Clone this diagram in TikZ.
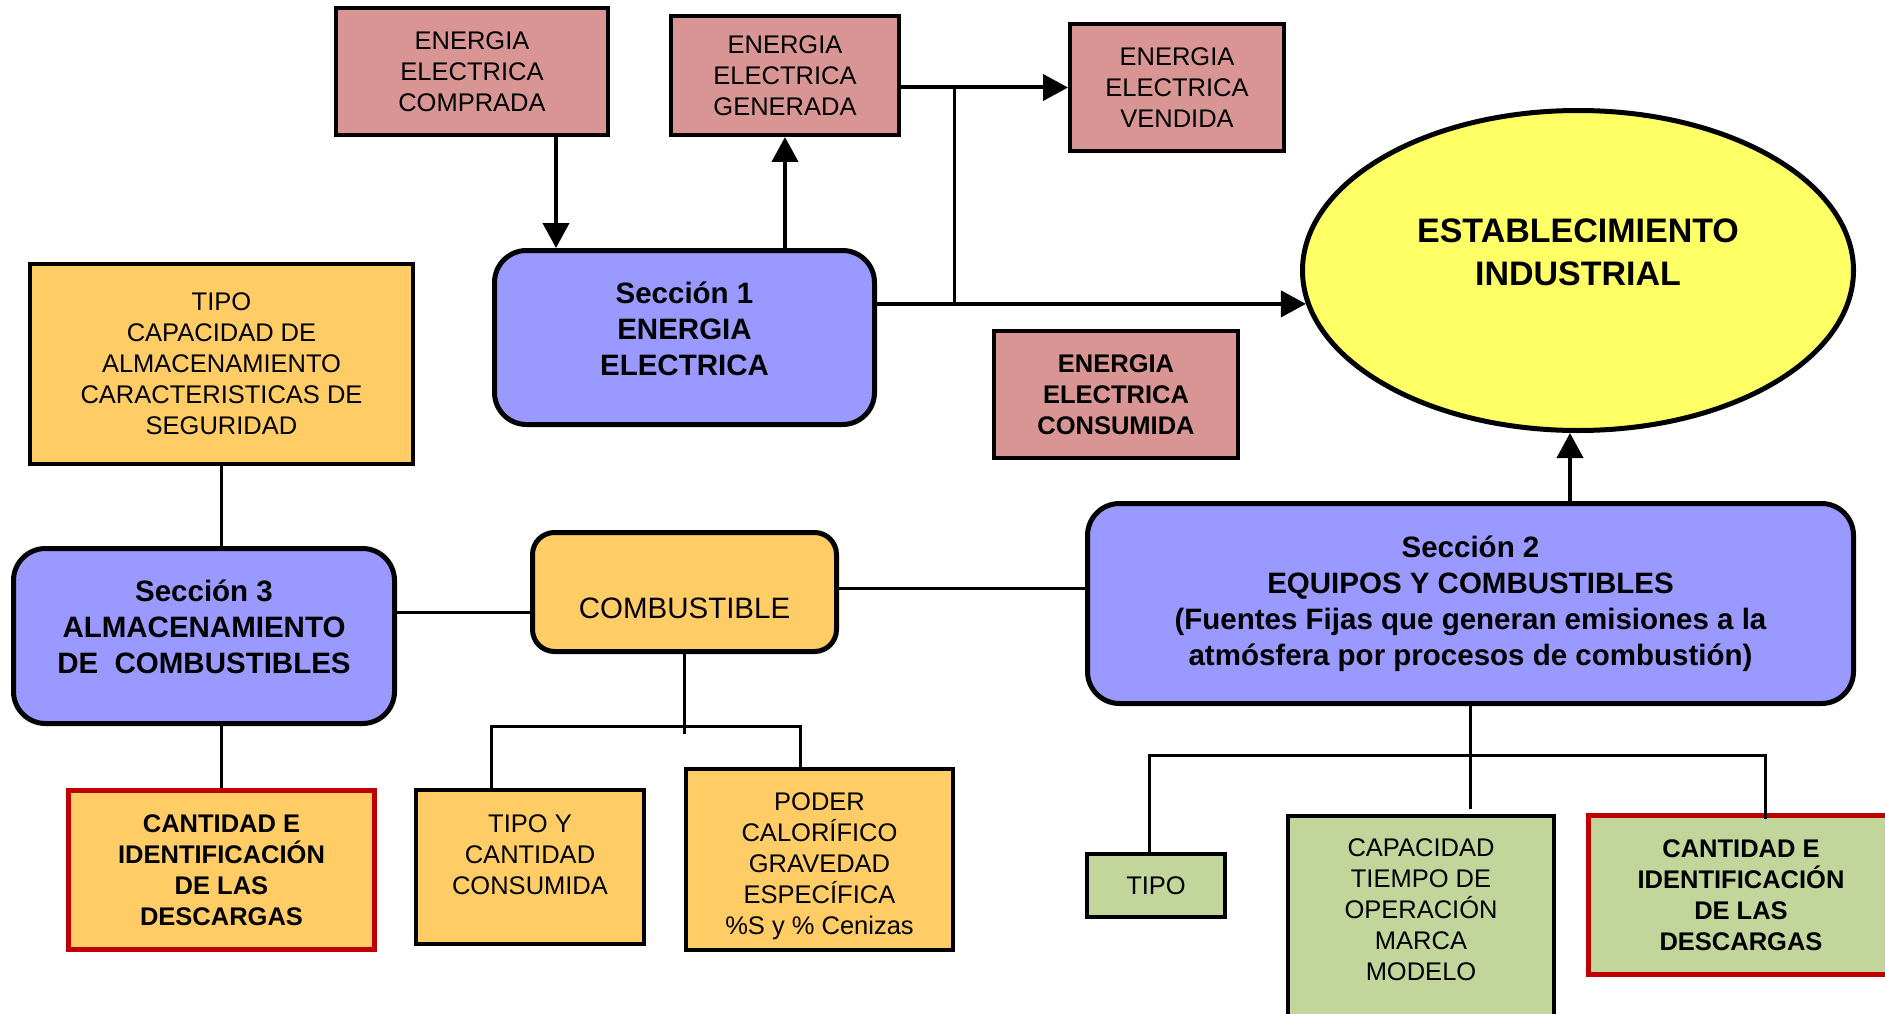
\documentclass[tikz,border=0pt]{standalone}
\usepackage{fontspec}
\setmainfont{Liberation Sans}
\usetikzlibrary{arrows.meta,shapes.geometric}

\definecolor{boxpink}{HTML}{D99594}
\definecolor{boxblue}{HTML}{9999FF}
\definecolor{boxorange}{HTML}{FFCC66}
\definecolor{boxyellow}{HTML}{FFFF66}
\definecolor{boxgreen}{HTML}{C2D69B}
\definecolor{boxred}{HTML}{C00000}

\begin{document}
\begin{tikzpicture}[x=1pt,y=-1pt,
    txt/.style={font={\fontsize{25.5}{31}\selectfont}, align=center},
    txtb/.style={font={\bfseries\fontsize{25.5}{31}\selectfont}, align=center},
    head/.style={font={\bfseries\fontsize{29.5}{36}\selectfont}, align=center},
    plainbox/.style={draw, line width=4pt, inner sep=0pt},
    energybox/.style={plainbox, fill=boxpink},
    fuelbox/.style={plainbox, fill=boxorange},
    equipbox/.style={plainbox, fill=boxgreen},
    outbox/.style={draw=boxred, line width=5pt, inner sep=0pt, txtb},
    secbox/.style={draw, line width=5pt, fill=boxblue, rounded corners=32pt, inner sep=0pt, head},
    link/.style={line width=3pt},
    flow/.style={line width=4pt, -{Triangle[length=25pt,width=26pt]}}]
      \useasboundingbox (0,0) rectangle (1885,1014);
      \clip (0,0) rectangle (1885,1014);

      % Energia electrica
      \node[energybox, txt, minimum width=272, minimum height=127] (compr) at (472,71.5) {ENERGIA\\ELECTRICA\\COMPRADA};
      \node[energybox, txt, minimum width=228, minimum height=119] (gener) at (785,75.5) {ENERGIA\\ELECTRICA\\GENERADA};
      \node[energybox, txt, minimum width=214, minimum height=127] (vend) at (1177,87.5) {ENERGIA\\ELECTRICA\\VENDIDA};
      \node[energybox, txtb, minimum width=244, minimum height=127] (consum) at (1116,394.5) {ENERGIA\\ELECTRICA\\CONSUMIDA};
      \node[secbox, minimum width=380, minimum height=174] (sec1) at (684.5,337.5) {};
      \node[head] (sec1txt) at (684.5,329) {Sección 1\\ENERGIA\\ELECTRICA};

      % Establecimiento
      \node[ellipse, draw, line width=5pt, fill=boxyellow, minimum width=551, minimum height=320] (estab) at (1578,270.5) {};
      \node[font={\bfseries\fontsize{34}{43}\selectfont}, align=center] (estabtxt) at (1578,252) {ESTABLECIMIENTO\\INDUSTRIAL};

      % Almacenamiento
      \node[fuelbox, txt, minimum width=383, minimum height=200] (tipo) at (221.5,364) {TIPO\\CAPACIDAD DE\\ALMACENAMIENTO\\CARACTERISTICAS DE\\SEGURIDAD};
      \node[secbox, minimum width=381, minimum height=175] (sec3) at (204,636) {};
      \node[head] (sec3txt) at (204,627) {Sección 3\\ALMACENAMIENTO\\DE~~COMBUSTIBLES};
      \node[outbox, fill=boxorange, minimum width=306, minimum height=159] (cant3) at (221.5,870) {CANTIDAD E\\IDENTIFICACIÓN\\DE LAS\\DESCARGAS};

      % Combustible
      \node[fuelbox, rounded corners=22pt, line width=5pt, font={\fontsize{29.5}{36}\selectfont}, text height=53pt, minimum width=304, minimum height=119] (comb) at (684.5,592) {COMBUSTIBLE};
      \node[fuelbox, minimum width=228, minimum height=154] (tipoy) at (530,867) {};
      \node[txt] (tipoytxt) at (530,855) {TIPO Y\\CANTIDAD\\CONSUMIDA};
      \node[fuelbox, minimum width=267, minimum height=181] (poder) at (819.5,859.5) {};
      \node[txt] (podertxt) at (819.5,866.5) {PODER\\CALORÍFICO\\GRAVEDAD\\ESPECÍFICA\\\%S y \% Cenizas};

      % Equipos
      \node[secbox, minimum width=766, minimum height=200] (sec2) at (1470.5,603.5) {Sección 2\\EQUIPOS Y COMBUSTIBLES\\(Fuentes Fijas que generan emisiones a la\\atmósfera por procesos de combustión)};
      \node[equipbox, txt, minimum width=138, minimum height=63] (tipog) at (1156,885.5) {TIPO};
      \node[equipbox, minimum width=266, minimum height=240, anchor=north] (capac) at (1421,814) {};
      \node[txt] (capactxt) at (1421,910) {CAPACIDAD\\TIEMPO DE\\OPERACIÓN\\MARCA\\MODELO};
      \node[outbox, fill=boxgreen, minimum width=305, minimum height=159] (cantg) at (1741,895) {CANTIDAD E\\IDENTIFICACIÓN\\DE LAS\\DESCARGAS};

      % Connectors
      \coordinate (xbuy) at (556,0);
      \coordinate (xjn) at (954,0);
      \coordinate (xup) at (1570,0);
      \coordinate (ylow) at (0,612);
      \coordinate (yhigh) at (0,588);
      \coordinate (ybar) at (0,726);
      \coordinate (xty) at (491,0);
      \coordinate (xpo) at (800,0);
      \coordinate (ybar2) at (0,755);
      \coordinate (xtg) at (1149,0);
      \coordinate (xcg) at (1765,0);

      \draw[flow] (xbuy |- compr.south) -- (xbuy |- sec1.north);
      \draw[flow] (sec1.north -| gener.south) -- (gener.south);
      \draw[flow] (vend.west -| gener.east) -- (vend.west);
      \draw[flow] (estab.187 -| sec1.east) -- (estab.187);
      \draw[link] (xjn |- vend.west) -- (xjn |- estab.187);
      \draw[flow] (xup |- sec2.north) -- (xup |- estab.south);

      \draw[link] (tipo.south) -- (tipo.south |- sec3.north);
      \draw[link] (sec3.south -| cant3.north) -- (cant3.north);
      \draw[link] (sec3.east |- ylow) -- (comb.west |- ylow);
      \draw[link] (comb.east |- yhigh) -- (sec2.west |- yhigh);
      \draw[link] (comb.south) -- ++(0,80);
      \draw[link] (xty |- tipoy.north) -- (xty |- ybar) -- (xpo |- ybar) -- (xpo |- poder.north);

      \draw[link] (sec2.south) -- ++(0,103);
      \draw[link] (xtg |- tipog.north) -- (xtg |- ybar2) -- (xcg |- ybar2) -- ([yshift=-6pt]xcg |- cantg.north);
    \end{tikzpicture}
\end{document}
